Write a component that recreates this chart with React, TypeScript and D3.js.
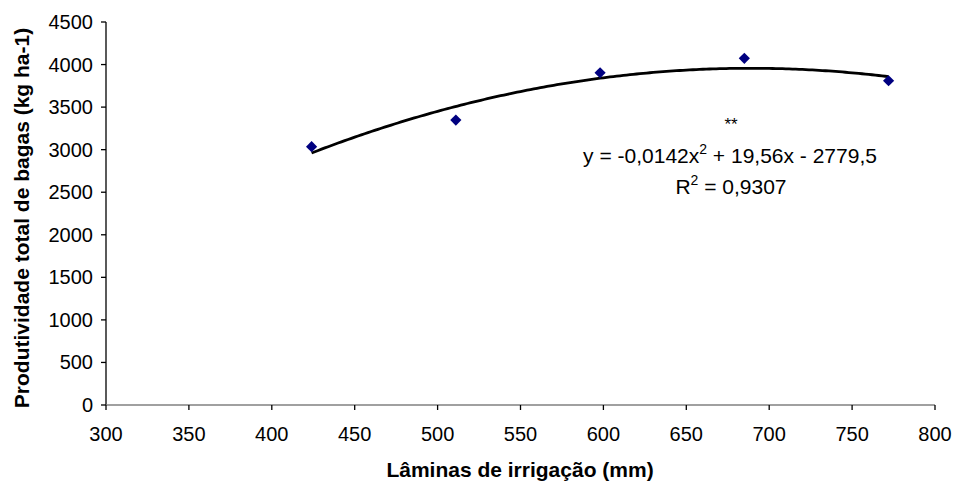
import React from "react";
import * as d3 from "d3";

const laminas = [424, 511, 598, 685, 772];
const produtividade = [3035, 3348, 3904, 4073, 3810];
const xTicks = [300, 350, 400, 450, 500, 550, 600, 650, 700, 750, 800];
const yTicks = [0, 500, 1000, 1500, 2000, 2500, 3000, 3500, 4000, 4500];
// Printed regression: y = -0,0142x² + 19,56x - 2779,5
const coefA = -0.0142;
const coefB = 19.56;
const coefC = -2779.5;
const trendRange = [424, 772];

const W = 957;
const H = 484;
const FONT = "'Liberation Sans', Arial, sans-serif";

export default function App() {
  const x = d3.scaleLinear().domain([300, 800]).range([106, 935]);
  const y = d3.scaleLinear().domain([0, 4500]).range([405, 22]);

  const trendX = d3.range(trendRange[0], trendRange[1] + 0.001, 2);
  const trendPts: [number, number][] = trendX.map((v) => [v, coefA * v * v + coefB * v + coefC]);
  const line = d3
    .line<[number, number]>()
    .x((d) => x(d[0]))
    .y((d) => y(d[1]));

  const diamond = d3.symbol().type(d3.symbolDiamond2 ?? d3.symbolDiamond).size(80)();

  return (
    <svg
      width={W}
      height={H}
      style={{ position: "absolute", left: 0, top: 0, background: "#fff" }}
      fontFamily={FONT}
    >
      <rect width={W} height={H} fill="#fff" />
      {/* Y axis */}
      <line x1={106} x2={106} y1={y(4500)} y2={y(0)} stroke="#000" strokeWidth={1.3} />
      {yTicks.map((t) => (
        <g key={"y" + t}>
          <line x1={101} x2={106} y1={y(t)} y2={y(t)} stroke="#000" strokeWidth={1.3} />
          <text x={93} y={y(t)} dy="0.35em" textAnchor="end" fontSize={20} fill="#000">
            {t}
          </text>
        </g>
      ))}
      {/* X axis */}
      <line x1={x(300)} x2={x(800)} y1={405} y2={405} stroke="#808080" strokeWidth={1.5} />
      {xTicks.map((t) => (
        <g key={"x" + t}>
          <line x1={x(t)} x2={x(t)} y1={405} y2={410} stroke="#000" strokeWidth={1.3} />
          <text x={x(t)} y={441} textAnchor="middle" fontSize={20} fill="#000">
            {t}
          </text>
        </g>
      ))}
      {/* Titles */}
      <text x={520} y={477} textAnchor="middle" fontSize={21} fontWeight="bold" fill="#000">
        Lâminas de irrigação (mm)
      </text>
      <text
        transform={`translate(29,218) rotate(-90)`}
        textAnchor="middle"
        fontSize={21}
        fontWeight="bold"
        fill="#000"
      >
        Produtividade total de bagas (kg ha-1)
      </text>
      {/* Trend line */}
      <path d={line(trendPts) || ""} fill="none" stroke="#000" strokeWidth={2.8} />
      {/* Points */}
      {laminas.map((v, i) => (
        <path
          key={"p" + i}
          d={diamond || ""}
          transform={`translate(${x(v)},${y(produtividade[i])})`}
          fill="#000080"
        />
      ))}
      {/* Equation */}
      <text x={731} y={130} textAnchor="middle" fontSize={17} fill="#000">
        **
      </text>
      <text x={730} y={163} textAnchor="middle" fontSize={21} fill="#000">
        y = -0,0142x
        <tspan dy={-9} fontSize={14}>2</tspan>
        <tspan dy={9}> + 19,56x - 2779,5</tspan>
      </text>
      <text x={731} y={194} textAnchor="middle" fontSize={21} fill="#000">
        R<tspan dy={-9} fontSize={14}>2</tspan>
        <tspan dy={9}> = 0,9307</tspan>
      </text>
    </svg>
  );
}
